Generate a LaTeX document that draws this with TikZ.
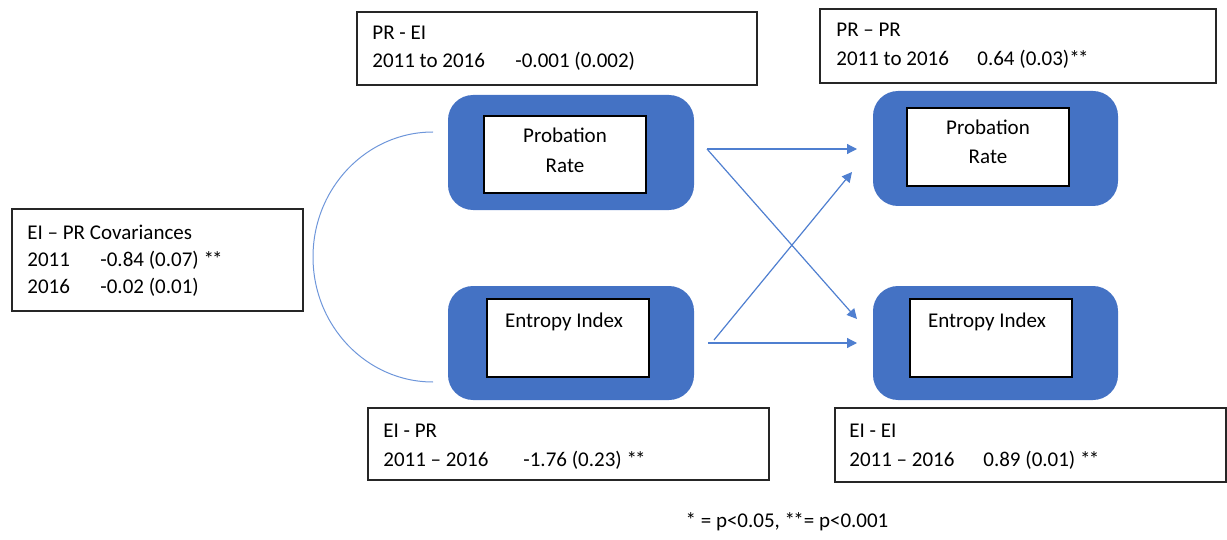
\documentclass[tikz,border=0pt]{standalone}
\usepackage{fontspec}
\setmainfont{Carlito}
\usetikzlibrary{arrows.meta}
\definecolor{boxblue}{HTML}{4472C4}
\definecolor{linkblue}{HTML}{4F7FD0}
\definecolor{covblue}{HTML}{6E96DA}
\definecolor{frame}{HTML}{262626}
% two tight asterisks
\newcommand{\dstar}{*\kern-0.9pt*}
\begin{document}
\begin{tikzpicture}[x=0.5pt,y=-0.5pt,
  every node/.style={font=\fontsize{10.5}{12}\selectfont, inner sep=0pt},
  statbox/.style={draw=frame, line width=0.6pt, fill=white, rectangle},
  varbox/.style={fill=boxblue, draw=none, rounded corners=12.5pt, rectangle},
  innerbox/.style={draw=black, line width=0.6pt, fill=white, rectangle},
  txt/.style={anchor=base west},
  ctxt/.style={anchor=base},
  arr/.style={draw=linkblue, line width=0.6pt, -{Triangle[length=5pt,width=5pt]}},
  cov/.style={draw=covblue, line width=0.5pt}]
\useasboundingbox (0,0) rectangle (1227,540);

% latent variables: outer blue panels with inner white labels
\node[varbox, minimum width=123pt, minimum height=57.5pt] (prL) at (571,152.5) {};
\node[varbox, minimum width=123pt, minimum height=57pt] (eiL) at (571,343) {};
\node[varbox, minimum width=122.5pt, minimum height=57.5pt] (prR) at (995.5,148.5) {};
\node[varbox, minimum width=122.5pt, minimum height=57pt] (eiR) at (995.5,343) {};

\node[innerbox, minimum width=81pt, minimum height=38.5pt] (prLi) at (565,154.5) {};
\node[innerbox, minimum width=81pt, minimum height=39pt] (eiLi) at (568,338) {};
\node[innerbox, minimum width=81pt, minimum height=39pt] (prRi) at (988,147) {};
\node[innerbox, minimum width=81pt, minimum height=39pt] (eiRi) at (991,338) {};

\node[ctxt] (prLa) at (565,143) {Probation};
\node[ctxt] (prLb) at (565,172) {Rate};
\node[ctxt] (eiLa) at (564,327) {Entropy Index};
\node[ctxt] (prRa) at (988,135) {Probation};
\node[ctxt] (prRb) at (988,163) {Rate};
\node[ctxt] (eiRa) at (987,327) {Entropy Index};

% coefficient boxes
\node[statbox, minimum width=200pt, minimum height=36.5pt] (preiBox) at (557,48.5) {};
\node[txt] (preiA) at (372,40) {PR - EI};
\node[txt] (preiB) at (372,68) {2011 to 2016};
\node[txt] (preiC) at (515,68) {-0.001 (0.002)};

\node[statbox, minimum width=198pt, minimum height=37pt] (prprBox) at (1018,46) {};
\node[txt] (prprA) at (836,37) {PR -- PR};
\node[txt] (prprB) at (836,66) {2011 to 2016};
\node[txt] (prprC) at (977,66) {0.64 (0.03)\dstar};

\node[statbox, minimum width=145.5pt, minimum height=51pt] (covBox) at (157.5,260) {};
\node[txt] (covA) at (27,239) {EI -- PR Covariances};
\node[txt] (covB) at (27,266) {2011};
\node[txt] (covC) at (100,266) {-0.84 (0.07) \dstar};
\node[txt] (covD) at (27,293) {2016};
\node[txt] (covE) at (100,293) {-0.02 (0.01)};

\node[statbox, minimum width=200.5pt, minimum height=36pt] (eiprBox) at (568.5,444) {};
\node[txt] (eiprA) at (383,437) {EI - PR};
\node[txt] (eiprB) at (383,466) {2011 -- 2016};
\node[txt] (eiprC) at (523,466) {-1.76 (0.23) \dstar};

\node[statbox, minimum width=195.5pt, minimum height=37pt] (eieiBox) at (1030.5,445) {};
\node[txt] (eieiA) at (849,437) {EI - EI};
\node[txt] (eieiB) at (849,466) {2011 -- 2016};
\node[txt] (eieiC) at (983,466) {0.89 (0.01) \dstar};

\node[ctxt] (note) at (787,527) {* = p<0.05, \dstar= p<0.001};

% path end points
\coordinate (prOut) at (707,149);
\coordinate (eiOutUp) at (714,340);
\coordinate (eiOut) at (708,343);
\coordinate (prIn) at (857,149);
\coordinate (prInDiag) at (852,172);
\coordinate (eiInDiag) at (857,319);
\coordinate (eiIn) at (857,343);
\coordinate (covTop) at (433,132);

% cross-lagged and autoregressive paths
\draw[arr] (prOut) -- (prIn);
\draw[arr] (prOut) -- (eiInDiag);
\draw[arr] (eiOutUp) -- (prInDiag);
\draw[arr] (eiOut) -- (eiIn);

% covariance between the 2011 variables
\draw[cov] (covTop) arc[start angle=90, end angle=270, x radius=60pt, y radius=62.5pt];
\end{tikzpicture}
\end{document}
